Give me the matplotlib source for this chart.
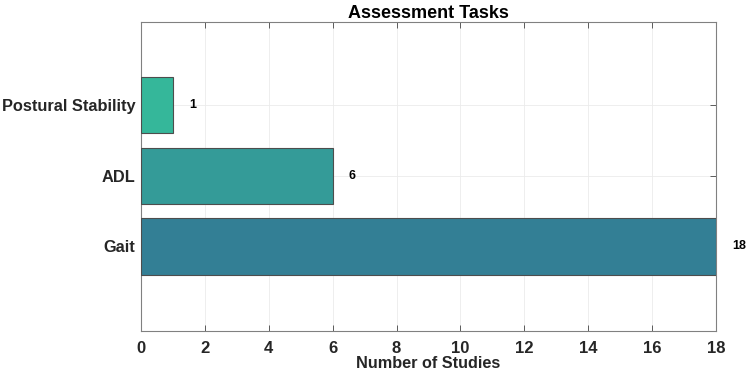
import matplotlib.pyplot as plt

plt.rcParams['font.family'] = ['Liberation Sans', 'DejaVu Sans']

tasks = ['Gait', 'ADL', 'Postural Stability']
studies = [18, 6, 1]
colors = ['#337f95', '#349b98', '#35b79a']

fig = plt.figure(figsize=(7.5, 3.74), dpi=100)
ax = fig.add_axes([141/750, 1 - 331/374, 575/750, 309/374])

ypos = list(range(len(tasks)))
ax.barh(ypos, studies, height=0.8, color=colors, edgecolor='#4d4d4d', linewidth=0.8, zorder=3)

for y, v in zip(ypos, studies):
    ax.text(v + 0.5, y, str(v), ha='left', va='center', fontsize=9,
            fontweight='bold', color='black', clip_on=False)

ax.set_xlim(0, 18)
ax.set_ylim(-1.2, 3.18)
ax.set_xticks(range(0, 19, 2))
ax.set_yticks(ypos)
ax.set_yticklabels(tasks)
ax.tick_params(axis='both', direction='in', length=4, width=0.6, color='#444444',
               labelsize=12, top=True, right=True)
ax.tick_params(axis='x', pad=7)
ax.tick_params(axis='y', pad=4, labelsize=11.8)
for lab in ax.get_xticklabels() + ax.get_yticklabels():
    lab.set_fontweight('bold')
    lab.set_color('#262626')

ax.grid(True, color='#ebebeb', linewidth=0.6, zorder=0)
for s in ax.spines.values():
    s.set_color('#808080')
    s.set_linewidth(0.8)

ax.set_xlabel('Number of Studies', fontsize=11.7, fontweight='bold', color='#262626', labelpad=0)
ax.set_title('Assessment Tasks', fontsize=13, fontweight='bold', pad=3)

fig.savefig('out.png', dpi=100)
